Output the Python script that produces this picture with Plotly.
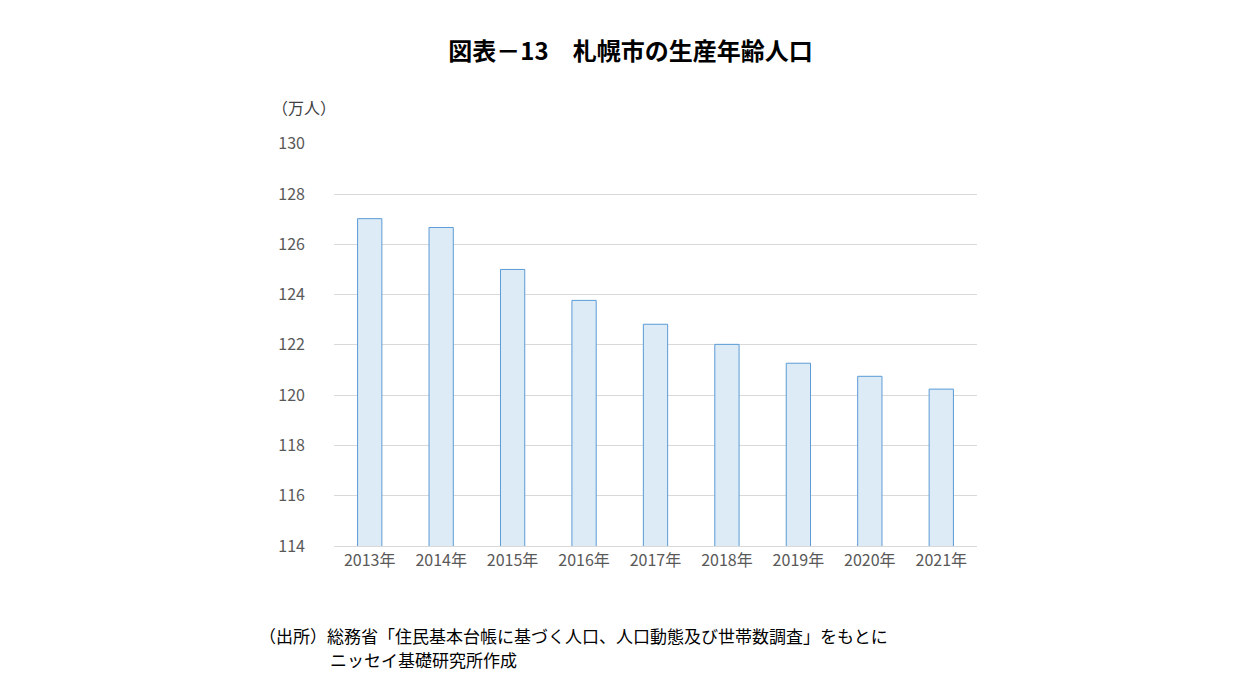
import plotly.graph_objects as go

years = ["2013年","2014年","2015年","2016年","2017年","2018年","2019年","2020年","2021年"]
values = [127.02, 126.67, 125.0, 123.77, 122.82, 122.02, 121.27, 120.75, 120.24]
yticks = [114,116,118,120,122,124,126,128,130]

fig = go.Figure(go.Bar(x=years, y=values, marker=dict(color="#DDEBF7", line=dict(color="#5B9BD5", width=1))))
font = "Noto Sans CJK JP"
fig.update_layout(
    width=1245, height=700, paper_bgcolor="white", plot_bgcolor="white",
    margin=dict(l=326, r=276, t=135, b=162),
    bargap=0.66, showlegend=False,
    font=dict(family=font, color="#595959", size=16),
    title=dict(text="<b>図表－13　札幌市の生産年齢人口</b>", x=0.5, xanchor="center", y=0.95, yanchor="top",
               font=dict(size=24, color="black", family=font)),
    xaxis=dict(showline=True, linecolor="#D9D9D9", ticks="", tickfont=dict(size=16)),
    yaxis=dict(range=[114,130.03], tickvals=yticks, gridcolor="#D9D9D9", zeroline=False,
               ticks="", ticklabelstandoff=28, tickfont=dict(size=16)),
    annotations=[
        dict(text="（万人）", xref="paper", yref="paper", x=-0.1, y=1.055, xanchor="left",
             yanchor="bottom", showarrow=False, font=dict(size=16, color="#404040")),
        dict(text="（出所）総務省「住民基本台帳に基づく人口、人口動態及び世帯数調査」をもとに",
             xref="paper", yref="paper", x=-0.12, y=-0.185, xanchor="left", yanchor="top",
             showarrow=False, font=dict(size=17, color="black")),
        dict(text="ニッセイ基礎研究所作成",
             xref="paper", yref="paper", x=-0.01, y=-0.245, xanchor="left", yanchor="top",
             showarrow=False, font=dict(size=17, color="black")),
    ],
)
fig.write_html("out.html")
